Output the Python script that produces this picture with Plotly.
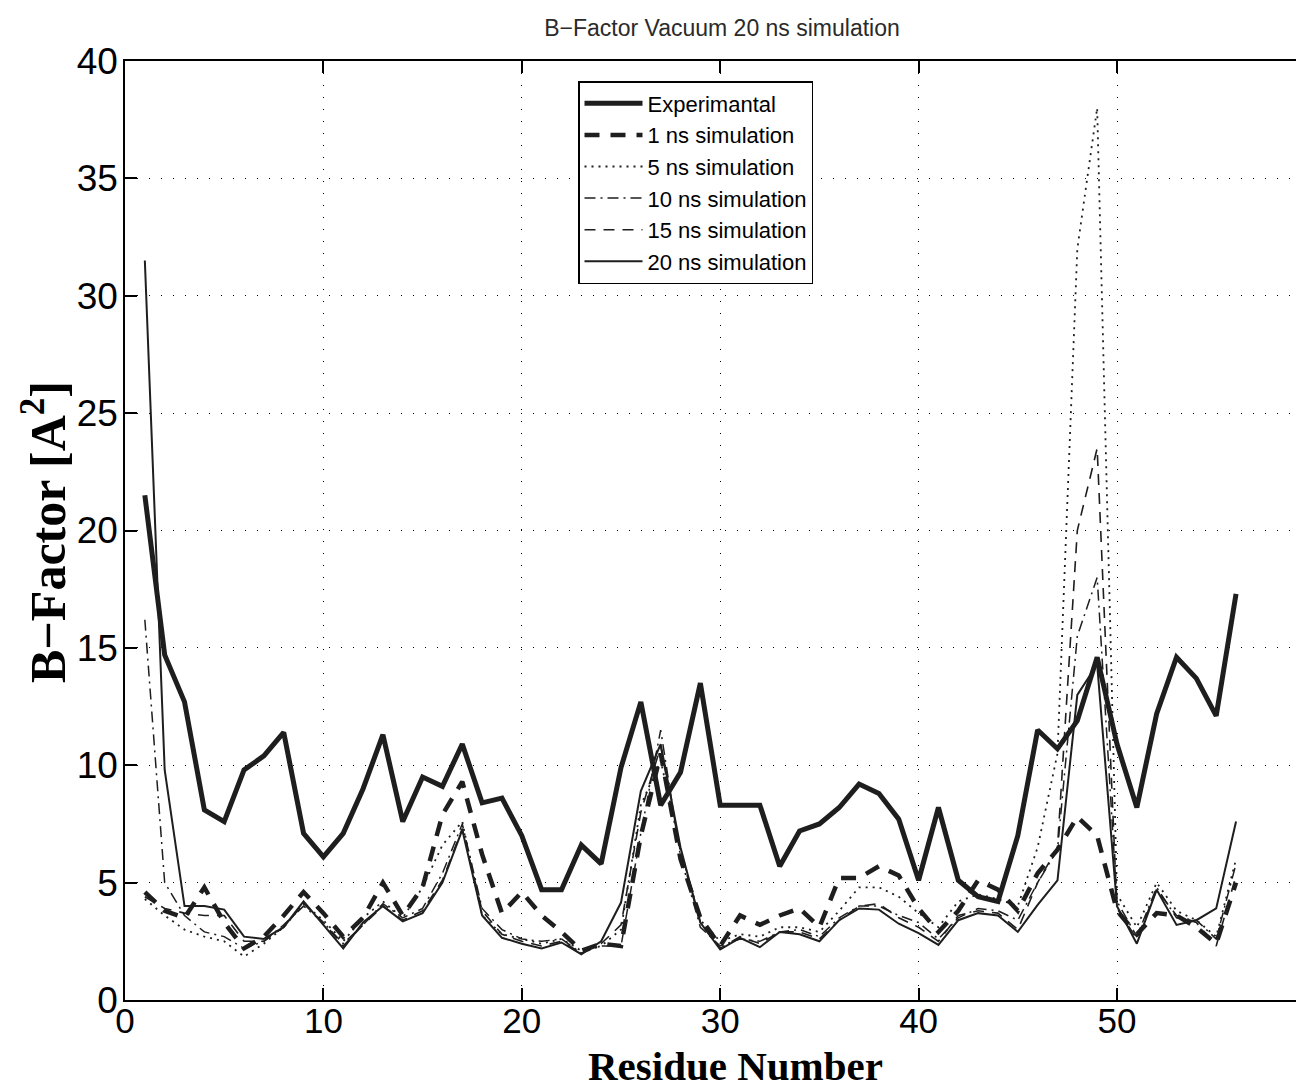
import plotly.graph_objects as go

residues = list(range(1, 57))

experimental = [21.5, 14.7, 12.7, 8.1, 7.6, 9.8, 10.4, 11.4, 7.1, 6.1,
                7.1, 9.0, 11.3, 7.6, 9.5, 9.1, 10.9, 8.4, 8.6, 7.0,
                4.7, 4.7, 6.6, 5.8, 9.9, 12.7, 8.3, 9.7, 13.5, 8.3,
                8.3, 8.3, 5.7, 7.2, 7.5, 8.2, 9.2, 8.8, 7.7, 5.1,
                8.2, 5.1, 4.4, 4.2, 7.0, 11.5, 10.7, 11.9, 14.6, 10.9,
                8.2, 12.2, 14.6, 13.7, 12.1, 17.3]

sim_1ns = [4.6, 3.8, 3.5, 4.8, 3.3, 2.2, 2.7, 3.6, 4.6, 3.7,
           2.7, 3.5, 5.0, 3.6, 4.8, 7.9, 9.3, 6.2, 3.7, 4.6,
           3.6, 2.9, 2.1, 2.4, 2.3, 7.0, 10.5, 6.0, 3.5, 2.3,
           3.6, 3.2, 3.6, 3.9, 3.1, 5.2, 5.2, 5.7, 5.3, 3.9,
           2.9, 3.8, 5.1, 4.7, 3.8, 5.4, 6.4, 7.8, 7.0, 3.8,
           2.8, 3.7, 3.6, 3.1, 2.4, 5.0]

sim_5ns = [4.3, 3.6, 3.0, 2.7, 2.5, 1.85, 2.4, 3.1, 4.1, 3.4,
           2.5, 3.5, 4.2, 3.5, 4.8, 6.6, 7.6, 3.6, 2.8, 2.6,
           2.4, 2.6, 2.1, 2.3, 3.0, 8.3, 10.2, 6.4, 3.4, 2.5,
           2.8, 2.7, 3.1, 3.1, 2.9, 3.8, 4.8, 4.8, 4.4, 3.7,
           3.1, 4.2, 4.5, 4.3, 4.0, 6.5, 10.5, 32.0, 38.0, 4.5,
           3.1, 5.0, 3.8, 3.4, 2.7, 6.0]

sim_10ns = [16.2, 5.0, 3.6, 2.9, 2.7, 2.2, 2.5, 3.2, 4.0, 3.3,
            2.4, 3.2, 4.1, 3.5, 3.9, 5.4, 7.5, 3.9, 3.0, 2.6,
            2.5, 2.6, 2.0, 2.3, 2.3, 7.1, 11.5, 6.1, 3.1, 2.3,
            2.6, 2.5, 2.9, 3.0, 2.7, 3.5, 4.0, 4.0, 3.6, 3.3,
            2.6, 3.5, 3.9, 3.8, 3.4, 5.0, 6.4, 15.5, 18.0, 4.2,
            2.7, 4.8, 3.5, 3.4, 2.6, 5.8]

sim_15ns = [4.4, 3.9, 3.7, 3.6, 3.6, 2.5, 2.5, 3.1, 4.1, 3.3,
            2.3, 3.2, 4.0, 3.4, 3.8, 5.1, 7.3, 3.8, 2.8, 2.5,
            2.3, 2.5, 2.0, 2.4, 3.2, 8.0, 10.8, 6.3, 3.3, 2.2,
            2.7, 2.4, 2.9, 2.9, 2.6, 3.4, 4.0, 4.1, 3.5, 3.1,
            2.5, 3.6, 3.8, 3.7, 3.0, 5.0, 6.5, 20.0, 23.5, 3.9,
            2.6, 4.7, 3.6, 3.3, 2.3, 5.3]

sim_20ns = [31.5, 9.8, 4.0, 4.0, 3.85, 2.7, 2.6, 3.1, 4.2, 3.2,
            2.2, 3.3, 4.0, 3.35, 3.7, 5.0, 7.25, 3.6, 2.65, 2.4,
            2.2, 2.45, 1.95, 2.5, 4.15, 8.9, 10.9, 6.5, 3.3, 2.15,
            2.65, 2.25, 2.9, 2.8, 2.5, 3.4, 3.9, 3.85, 3.25, 2.85,
            2.35, 3.4, 3.7, 3.6, 2.9, 4.05, 5.1, 13.0, 14.3, 4.0,
            2.4, 4.7, 3.2, 3.4, 3.9, 7.6]

names = ["Experimantal", "1 ns simulation", "5 ns simulation",
         "10 ns simulation", "15 ns simulation", "20 ns simulation"]
series = [experimental, sim_1ns, sim_5ns, sim_10ns, sim_15ns, sim_20ns]
styles = [
    dict(width=5, dash="solid"),
    dict(width=4.5, dash="15px,11px"),
    dict(width=1.8, dash="2px,5px"),
    dict(width=1.5, dash="11px,5px,2px,5px"),
    dict(width=1.6, dash="11px,8px"),
    dict(width=2, dash="solid"),
]

ink = "#1e1e1e"
fig = go.Figure()
for name, vals, st in zip(names, series, styles):
    fig.add_trace(go.Scatter(x=residues, y=vals, mode="lines", name=name,
                             line=dict(color=ink, width=st["width"], dash=st["dash"])))

W, H = 1296, 1091
left, top, bottom = 125, 61, 1000
xmax = (W - left) / 19.84

sans = "Liberation Sans, Arial, sans-serif"
serif = "Liberation Serif, Times New Roman, serif"
fig.update_layout(
    width=W, height=H,
    margin=dict(l=left, r=0, t=top, b=H - bottom, pad=0),
    paper_bgcolor="white", plot_bgcolor="white",
    showlegend=True,
    legend=dict(x=(578 - left) / (W - left), y=(bottom - 81) / (bottom - top),
                xanchor="left", yanchor="top",
                bgcolor="white", bordercolor="black", borderwidth=1.5,
                font=dict(family=sans, size=22, color="black"),
                itemwidth=58, tracegroupgap=0),
    title=dict(text="B\u2212Factor Vacuum 20 ns simulation",
               font=dict(family=sans, size=23, color="#2a2a2a"),
               xref="container", x=722 / W, xanchor="center",
               yref="container", y=1 - 28 / H, yanchor="middle"),
    xaxis=dict(range=[0, xmax], tickvals=[0, 10, 20, 30, 40, 50],
               ticks="inside", ticklen=12, tickwidth=1.5, tickcolor="black",
               showline=True, linecolor="black", linewidth=1.5, mirror="ticks",
               showgrid=True, gridcolor="black", gridwidth=1, griddash="1px,11px",
               zeroline=False, tickfont=dict(family=sans, size=35, color="black"),
               ticklabelstandoff=-11),
    yaxis=dict(range=[0, 40], tickvals=[0, 5, 10, 15, 20, 25, 30, 35, 40],
               ticks="inside", ticklen=12, tickwidth=1.5, tickcolor="black",
               showline=True, linecolor="black", linewidth=1.5, mirror=False,
               showgrid=True, gridcolor="black", gridwidth=1, griddash="1px,11px",
               zeroline=False, tickfont=dict(family=sans, size=37, color="black"),
               ticklabelstandoff=-2),
    annotations=[
        dict(text="<b>Residue Number</b>", xref="paper", yref="paper",
             x=(735 - left) / (W - left), y=-(1066 - bottom) / (bottom - top),
             xanchor="center", yanchor="middle", showarrow=False,
             font=dict(family=serif, size=41, color="black")),
        dict(text="<b>B\u2212Factor [A<sup>2</sup>]</b>", xref="paper", yref="paper",
             x=-(left - 44) / (W - left), y=(bottom - 532) / (bottom - top),
             xanchor="center", yanchor="middle", showarrow=False, textangle=-90,
             font=dict(family=serif, size=50, color="black")),
    ],
)

fig.write_html("out.html")
